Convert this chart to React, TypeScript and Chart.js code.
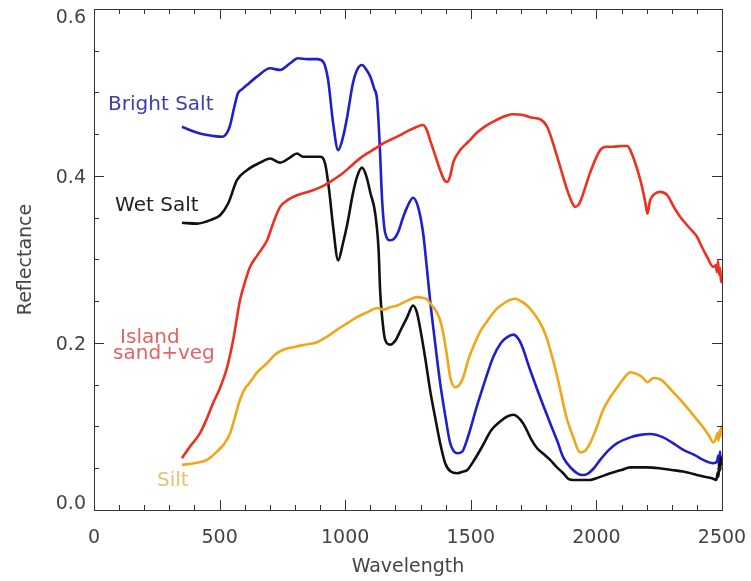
import React, { useEffect, useRef } from "react";
import { Chart, registerables } from "chart.js";

Chart.register(...registerables);

// ---- Data ----
const brightSaltWl = [350, 400, 434, 475, 510, 530, 542, 558, 573, 590, 609, 649, 701, 741, 781, 812, 850, 888, 912, 932, 952, 972, 990, 1008, 1030, 1047, 1067, 1085, 1100, 1115, 1127, 1137, 1147, 1159, 1179, 1195, 1211, 1230, 1247, 1270, 1290, 1310, 1325, 1338, 1358, 1378, 1400, 1418, 1446, 1466, 1486, 1525, 1560, 1589, 1620, 1645, 1669, 1697, 1736, 1776, 1816, 1845, 1868, 1900, 1924, 1945, 1963, 1990, 2015, 2050, 2083, 2135, 2175, 2214, 2266, 2300, 2346, 2390, 2425, 2465, 2480, 2485, 2488, 2492, 2495, 2500];
const brightSaltR = [0.459, 0.453, 0.450, 0.448, 0.447, 0.452, 0.461, 0.482, 0.499, 0.504, 0.509, 0.519, 0.529, 0.527, 0.535, 0.541, 0.540, 0.540, 0.537, 0.515, 0.463, 0.431, 0.445, 0.471, 0.510, 0.527, 0.533, 0.527, 0.519, 0.505, 0.491, 0.440, 0.371, 0.332, 0.323, 0.325, 0.333, 0.350, 0.363, 0.374, 0.363, 0.332, 0.290, 0.251, 0.200, 0.152, 0.110, 0.080, 0.068, 0.070, 0.085, 0.125, 0.158, 0.183, 0.200, 0.207, 0.210, 0.201, 0.168, 0.135, 0.104, 0.082, 0.063, 0.050, 0.044, 0.042, 0.043, 0.050, 0.060, 0.072, 0.080, 0.087, 0.090, 0.091, 0.087, 0.081, 0.072, 0.066, 0.060, 0.056, 0.058, 0.065, 0.052, 0.070, 0.058, 0.062];

const wetSaltWl = [350, 410, 470, 502, 534, 569, 609, 661, 701, 741, 780, 808, 832, 900, 920, 936, 952, 972, 990, 1010, 1030, 1047, 1067, 1085, 1100, 1119, 1133, 1139, 1147, 1159, 1179, 1200, 1220, 1247, 1270, 1285, 1300, 1318, 1340, 1358, 1378, 1398, 1420, 1446, 1470, 1486, 1510, 1549, 1580, 1617, 1645, 1669, 1708, 1740, 1764, 1790, 1816, 1840, 1868, 1890, 1908, 1940, 1975, 2000, 2055, 2100, 2135, 2200, 2250, 2300, 2346, 2400, 2425, 2460, 2478, 2483, 2486, 2489, 2492, 2495, 2498, 2500];
const wetSaltR = [0.344, 0.343, 0.348, 0.353, 0.367, 0.395, 0.407, 0.416, 0.421, 0.416, 0.422, 0.427, 0.423, 0.423, 0.415, 0.383, 0.339, 0.299, 0.318, 0.345, 0.378, 0.399, 0.410, 0.399, 0.380, 0.356, 0.311, 0.263, 0.231, 0.204, 0.198, 0.203, 0.215, 0.231, 0.245, 0.237, 0.215, 0.183, 0.140, 0.111, 0.080, 0.056, 0.046, 0.044, 0.046, 0.048, 0.058, 0.078, 0.095, 0.106, 0.112, 0.114, 0.104, 0.085, 0.074, 0.067, 0.060, 0.052, 0.044, 0.037, 0.036, 0.036, 0.036, 0.038, 0.044, 0.048, 0.051, 0.051, 0.050, 0.048, 0.046, 0.042, 0.040, 0.038, 0.036, 0.045, 0.040, 0.055, 0.047, 0.063, 0.055, 0.060];

const islandWl = [350, 380, 422, 450, 474, 500, 530, 555, 581, 600, 621, 650, 689, 715, 741, 775, 808, 840, 872, 905, 940, 985, 1020, 1050, 1087, 1120, 1151, 1185, 1219, 1250, 1286, 1310, 1325, 1338, 1358, 1378, 1395, 1406, 1418, 1430, 1458, 1490, 1525, 1560, 1589, 1630, 1665, 1708, 1740, 1776, 1804, 1844, 1884, 1905, 1916, 1930, 1943, 1975, 2015, 2040, 2067, 2100, 2123, 2135, 2175, 2195, 2203, 2214, 2230, 2254, 2282, 2310, 2334, 2370, 2401, 2420, 2441, 2465, 2475, 2480, 2484, 2488, 2492, 2496, 2500];
const islandR = [0.062, 0.075, 0.092, 0.110, 0.128, 0.145, 0.171, 0.205, 0.251, 0.272, 0.291, 0.305, 0.323, 0.345, 0.363, 0.372, 0.377, 0.380, 0.383, 0.387, 0.393, 0.402, 0.411, 0.419, 0.427, 0.433, 0.439, 0.444, 0.449, 0.454, 0.459, 0.461, 0.455, 0.443, 0.425, 0.407, 0.395, 0.393, 0.400, 0.416, 0.431, 0.441, 0.452, 0.460, 0.465, 0.471, 0.474, 0.473, 0.470, 0.468, 0.459, 0.423, 0.383, 0.367, 0.363, 0.366, 0.375, 0.404, 0.431, 0.435, 0.435, 0.436, 0.436, 0.431, 0.395, 0.368, 0.355, 0.371, 0.378, 0.381, 0.377, 0.362, 0.351, 0.338, 0.327, 0.315, 0.303, 0.291, 0.293, 0.285, 0.298, 0.282, 0.290, 0.275, 0.272];

const siltWl = [350, 400, 450, 490, 520, 542, 560, 581, 600, 621, 650, 689, 720, 753, 793, 840, 888, 930, 968, 1010, 1047, 1090, 1127, 1151, 1180, 1207, 1250, 1286, 1310, 1326, 1345, 1366, 1380, 1390, 1405, 1418, 1438, 1455, 1470, 1490, 1509, 1540, 1565, 1600, 1629, 1660, 1677, 1700, 1724, 1750, 1776, 1800, 1816, 1840, 1856, 1880, 1908, 1935, 1955, 1975, 2000, 2027, 2055, 2083, 2110, 2135, 2160, 2183, 2203, 2227, 2250, 2266, 2300, 2346, 2390, 2425, 2450, 2465, 2475, 2482, 2486, 2490, 2494, 2497, 2500];
const siltR = [0.054, 0.056, 0.060, 0.070, 0.080, 0.092, 0.110, 0.132, 0.145, 0.153, 0.165, 0.176, 0.186, 0.192, 0.195, 0.198, 0.201, 0.208, 0.216, 0.224, 0.231, 0.237, 0.242, 0.240, 0.243, 0.245, 0.251, 0.255, 0.254, 0.252, 0.245, 0.236, 0.225, 0.212, 0.185, 0.159, 0.147, 0.150, 0.159, 0.180, 0.195, 0.215, 0.226, 0.240, 0.247, 0.252, 0.253, 0.250, 0.245, 0.236, 0.224, 0.208, 0.192, 0.165, 0.144, 0.112, 0.087, 0.069, 0.071, 0.080, 0.098, 0.120, 0.135, 0.147, 0.158, 0.165, 0.163, 0.159, 0.153, 0.158, 0.157, 0.154, 0.143, 0.128, 0.112, 0.099, 0.088, 0.081, 0.085, 0.092, 0.083, 0.095, 0.088, 0.100, 0.098];

const xTickLabels = ["0", "500", "1000", "1500", "2000", "2500"];
const yTickValues = [0, 0.2, 0.4, 0.6];
const yTickLabels = ["0.0", "0.2", "0.4", "0.6"];
const seriesNames = ["Silt", "Island sand+veg", "Wet Salt", "Bright Salt"];

const FONT = '"DejaVu Sans", "Liberation Sans", sans-serif';
const AXIS_TEXT = "#444444";

const zip = (xs: number[], ys: number[]) => xs.map((x, i) => ({ x, y: ys[i] }));

const decorPlugin = {
  id: "decor",
  afterDatasetsDraw(chart: any) {
    const { ctx, chartArea: a, scales } = chart;
    const xs = scales.x;
    const ys = scales.y;
    ctx.save();
    // frame
    ctx.strokeStyle = "#333333";
    ctx.lineWidth = 1;
    ctx.strokeRect(Math.round(a.left) + 0.5, Math.round(a.top) + 0.5, Math.round(a.width), Math.round(a.height));
    // inward ticks
    ctx.beginPath();
    for (let v = 0; v <= 2500; v += 100) {
      const px = Math.round(xs.getPixelForValue(v)) + 0.5;
      const len = v % 500 === 0 ? 10 : 5;
      ctx.moveTo(px, a.bottom);
      ctx.lineTo(px, a.bottom - len);
      ctx.moveTo(px, a.top);
      ctx.lineTo(px, a.top + len);
    }
    for (let i = 0; i <= 12; i++) {
      const v = i * 0.05;
      const py = Math.round(ys.getPixelForValue(v)) + 0.5;
      const len = i % 4 === 0 ? 10 : 5;
      ctx.moveTo(a.left, py);
      ctx.lineTo(a.left + len, py);
      ctx.moveTo(a.right, py);
      ctx.lineTo(a.right - len, py);
    }
    ctx.stroke();

    // y tick labels (kept inside the axis span, as in the original)
    ctx.font = `19px ${FONT}`;
    ctx.fillStyle = AXIS_TEXT;
    ctx.textAlign = "right";
    ctx.textBaseline = "middle";
    yTickValues.forEach((v, i) => {
      let py = ys.getPixelForValue(v) + 2;
      py = Math.min(Math.max(py, a.top + 9), a.bottom - 6);
      ctx.fillText(yTickLabels[i], a.left - 8, py);
    });

    // inline labels
    ctx.font = `20px ${FONT}`;
    ctx.textBaseline = "alphabetic";
    ctx.textAlign = "left";
    const put = (t: string, wl: number, r: number, c: string) => {
      ctx.fillStyle = c;
      ctx.fillText(t, xs.getPixelForValue(wl), ys.getPixelForValue(r));
    };
    put("Bright Salt", 56, 0.479, "#3c3cb4");
    put("Wet Salt", 84, 0.358, "#222222");
    put("Island", 104, 0.2, "#e06464");
    put("sand+veg", 76, 0.181, "#e06464");
    put("Silt", 251, 0.029, "#e8c070");
    ctx.restore();
  },
};

export default function App() {
  const ref = useRef<HTMLCanvasElement | null>(null);
  useEffect(() => {
    if (!ref.current) return;
    const chart = new Chart(ref.current, {
      type: "line",
      data: {
        datasets: [
          { label: seriesNames[0], data: zip(siltWl, siltR), borderColor: "#f2a516" },
          { label: seriesNames[1], data: zip(islandWl, islandR), borderColor: "#ee3020" },
          { label: seriesNames[2], data: zip(wetSaltWl, wetSaltR), borderColor: "#111111" },
          { label: seriesNames[3], data: zip(brightSaltWl, brightSaltR), borderColor: "#1f1fd0" },
        ].map((d) => ({
          ...d,
          borderWidth: 2.6,
          pointRadius: 0,
          fill: false,
          cubicInterpolationMode: "monotone" as const,
        })),
      },
      options: {
        responsive: false,
        animation: false,
        devicePixelRatio: 1,
        layout: { padding: { top: 9, right: 29, left: 0, bottom: 0 } },
        plugins: { legend: { display: false }, tooltip: { enabled: false } },
        scales: {
          x: {
            type: "linear",
            min: 0,
            max: 2500,
            border: { display: false },
            grid: { display: false, drawTicks: false },
            ticks: {
              stepSize: 500,
              padding: 17,
              color: AXIS_TEXT,
              font: { family: FONT, size: 19 },
              maxRotation: 0,
              callback: (v: any) => xTickLabels[Math.round(Number(v) / 500)] ?? "",
            },
            title: {
              display: true,
              text: "Wavelength",
              color: AXIS_TEXT,
              font: { family: FONT, size: 19 },
              padding: { top: 0, bottom: 3 },
            },
            afterFit: (s: any) => {
              s.height = 71;
              s.paddingLeft = 0;
              s.paddingRight = 0;
            },
          },
          y: {
            type: "linear",
            min: 0,
            max: 0.6,
            border: { display: false },
            grid: { display: false, drawTicks: false },
            ticks: { display: false, stepSize: 0.2 },
            title: {
              display: true,
              text: "Reflectance",
              color: AXIS_TEXT,
              font: { family: FONT, size: 19 },
              padding: { top: 15, bottom: 15 },
            },
            afterFit: (s: any) => {
              s.width = 94;
              s.paddingTop = 0;
              s.paddingBottom = 0;
            },
          },
        },
      },
      plugins: [decorPlugin],
    } as any);
    return () => chart.destroy();
  }, []);
  return (
    <div style={{ position: "fixed", left: 0, top: 0, width: 751, height: 581, background: "#fff" }}>
      <canvas ref={ref} width={751} height={581} style={{ width: 751, height: 581, display: "block" }} />
    </div>
  );
}
